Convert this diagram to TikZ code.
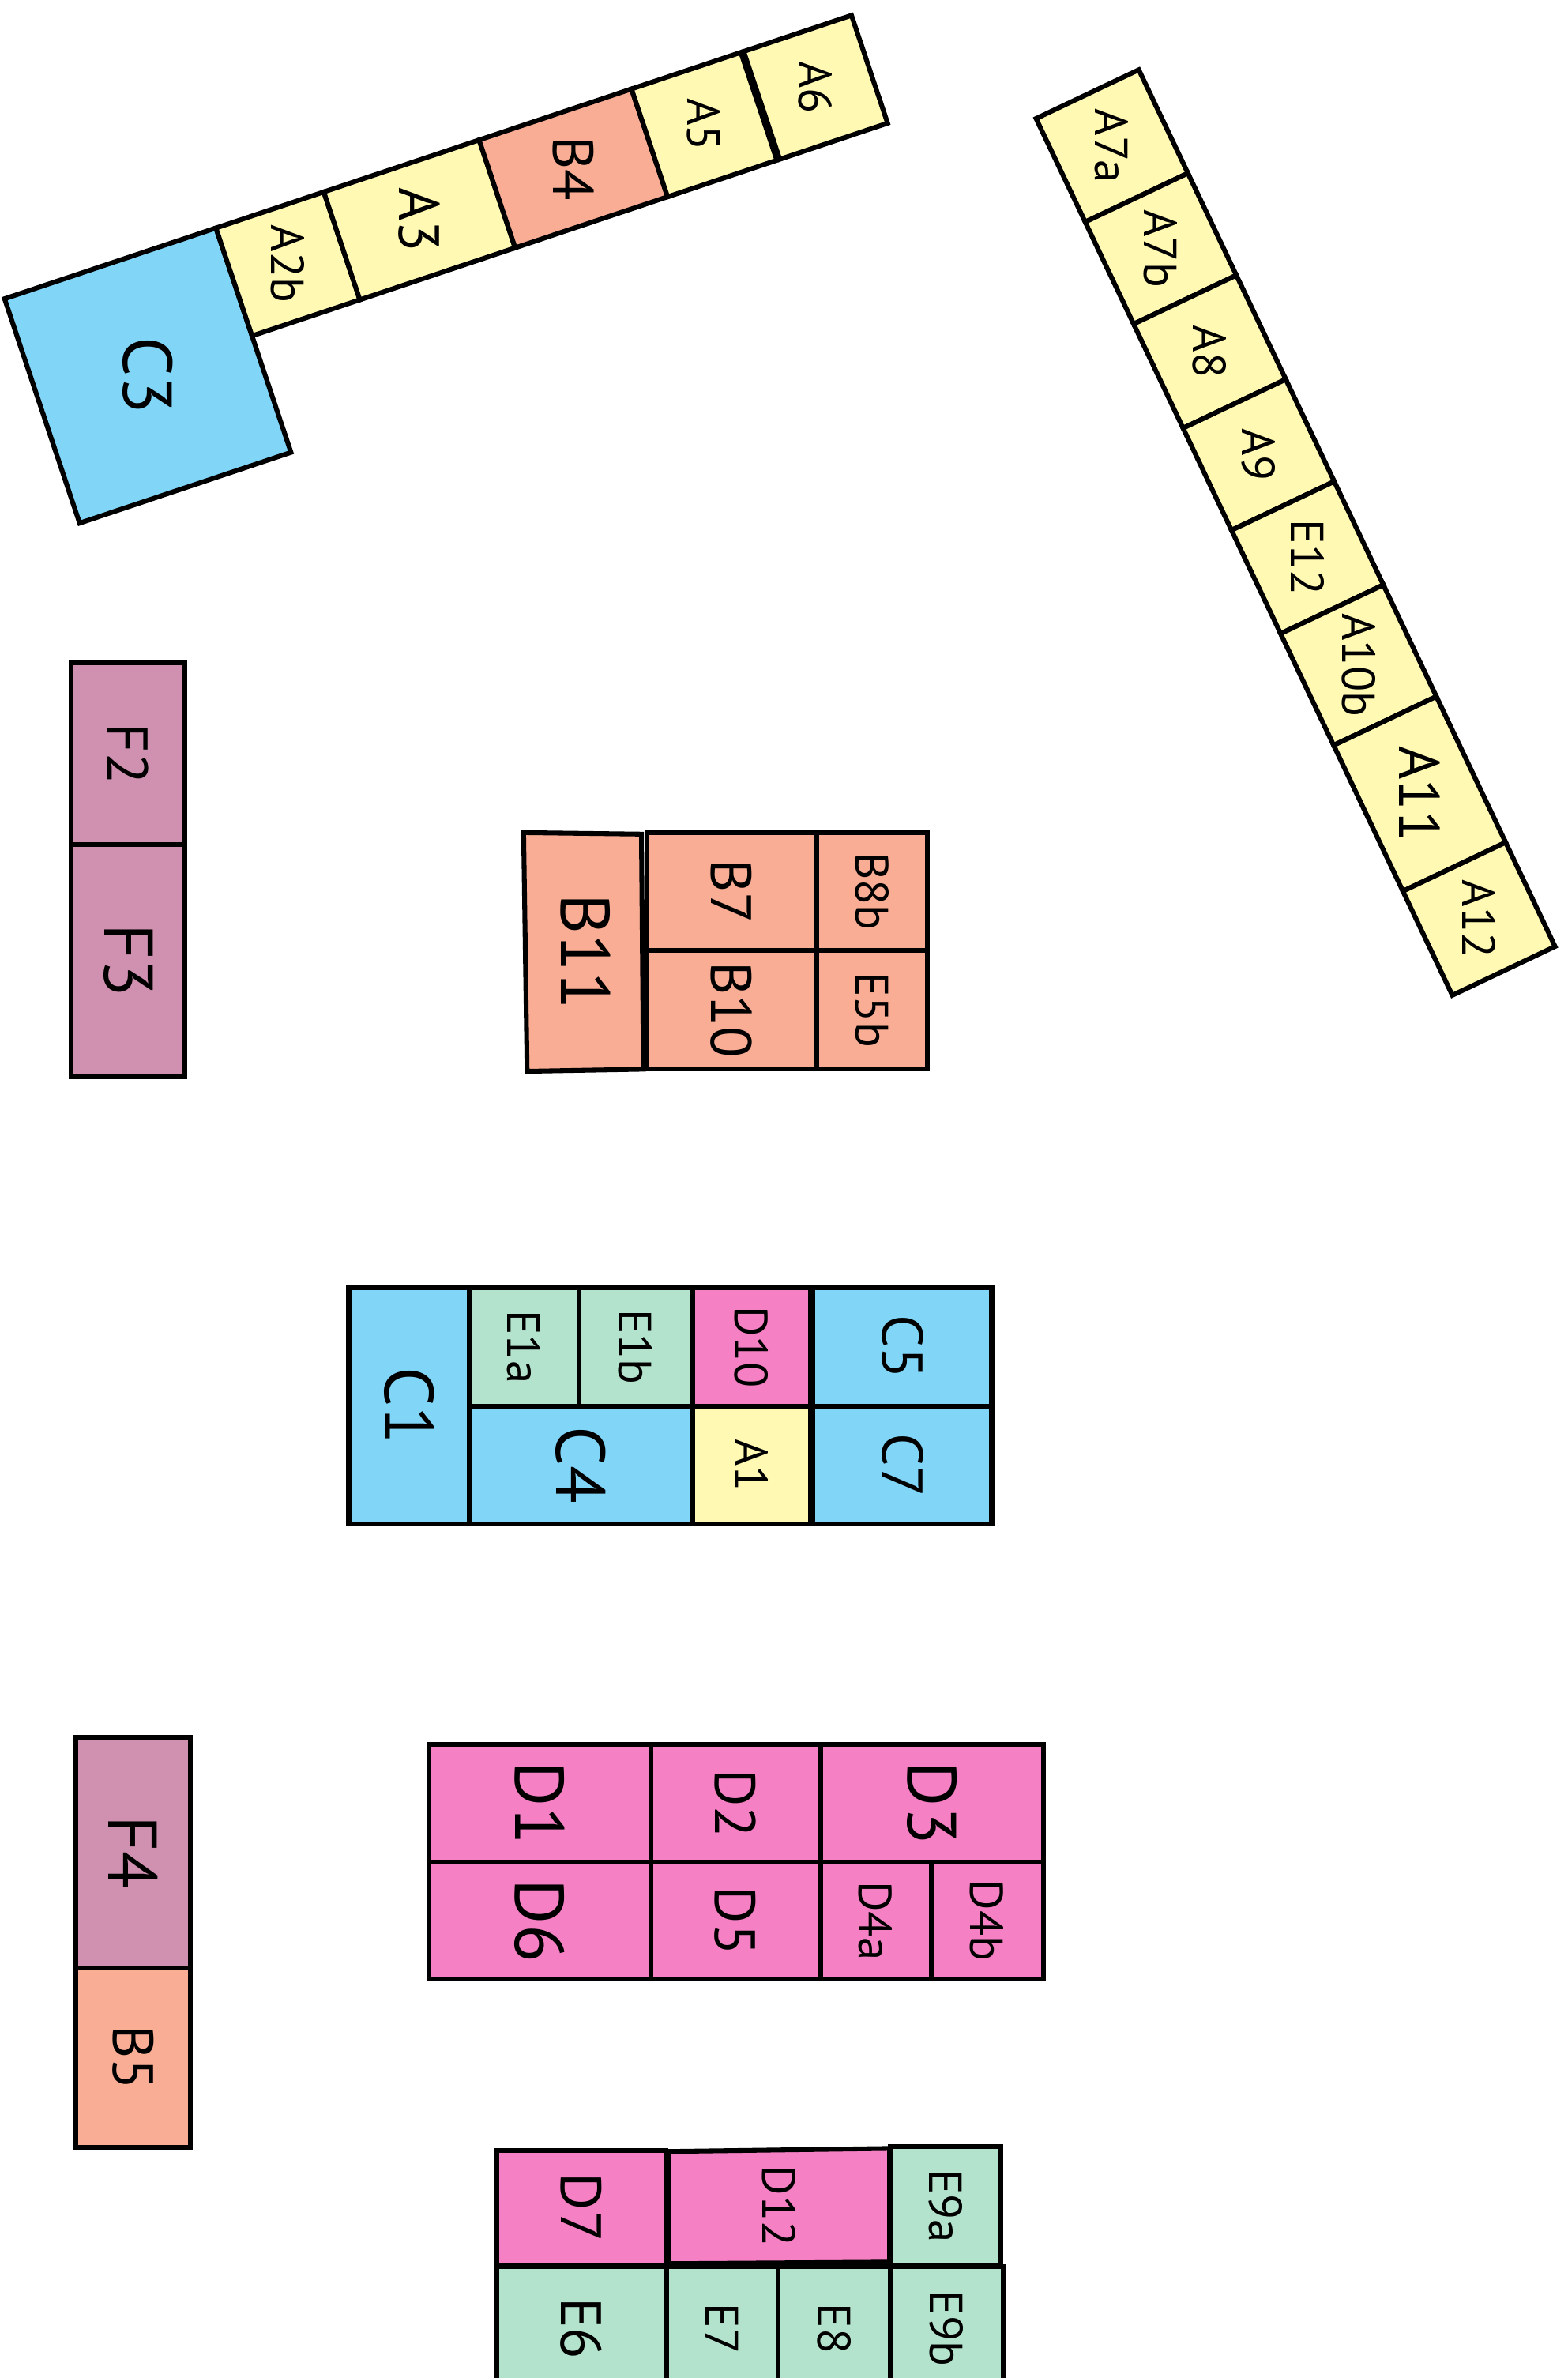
\documentclass[tikz,border=0pt]{standalone}
\usepackage{fontspec}
\setmainfont{PT Sans}
\definecolor{ylw}{RGB}{255,249,180}
\definecolor{slm}{RGB}{248,173,148}
\definecolor{blu}{RGB}{129,213,247}
\definecolor{pnk}{RGB}{245,128,196}
\definecolor{mnt}{RGB}{179,227,204}
\definecolor{mve}{RGB}{208,145,177}
\tikzset{
  cell/.style={draw, line width=1.8pt, line join=miter},
  lbl/.style={rotate=-90, inner sep=0pt},
  lblL/.style={font=\fontsize{26}{26}\selectfont},
  lblM/.style={font=\fontsize{21.5}{22}\selectfont},
  lblS/.style={font=\fontsize{17.5}{18}\selectfont},
}
\begin{document}
\begin{tikzpicture}[x=0.02cm, y=-0.02cm]
\useasboundingbox (0,0) rectangle (1034,1568);
\clip (0,0) rectangle (1034,1568);

% top left strip
\begin{scope}[shift={(3,197)}, rotate=18.5]
  \draw[cell, fill=blu] (0,0) rectangle (147,156) node[midway, lbl, lblL] (c3) {C3};
  \draw[cell, fill=ylw] (147,0) rectangle (222,75) node[midway, lbl, lblS] (a2b) {A2b};
  \draw[cell, fill=ylw] (222,0) rectangle (330,75) node[midway, lbl, lblM] (a3) {A3};
  \draw[cell, fill=slm] (330,0) rectangle (436,75) node[midway, lbl, lblM] (b4) {B4};
  \draw[cell, fill=ylw] (436,0) rectangle (512,75) node[midway, lbl, lblS] (a5) {A5};
  \draw[cell, fill=ylw] (514,0) rectangle (589,75) node[midway, lbl, lblS] (a6) {A6};
\end{scope}

% right strip
\begin{scope}[shift={(751,46)}, rotate=-64.6]
  \draw[cell, fill=ylw] (0,0) rectangle (75.5,75) node[midway, lbl, lblS] (a7a) {A7a};
  \draw[cell, fill=ylw] (75.5,0) rectangle (150,75) node[midway, lbl, lblS] (a7b) {A7b};
  \draw[cell, fill=ylw] (150,0) rectangle (226,75) node[midway, lbl, lblS] (a8) {A8};
  \draw[cell, fill=ylw] (226,0) rectangle (300.5,75) node[midway, lbl, lblS] (a9) {A9};
  \draw[cell, fill=ylw] (300.5,0) rectangle (376,75) node[midway, lbl, lblS] (e12) {E12};
  \draw[cell, fill=ylw] (376,0) rectangle (457.5,75) node[midway, lbl, lblS] (a10b) {A10b};
  \draw[cell, fill=ylw] (457.5,0) rectangle (564,75) node[midway, lbl, lblM] (a11) {A11};
  \draw[cell, fill=ylw] (564,0) rectangle (640,75) node[midway, lbl, lblS] (a12) {A12};
\end{scope}

% F column
\draw[cell, fill=mve] (47,437) rectangle (122,557) node[midway, lbl, lblM] (f2) {F2};
\draw[cell, fill=mve] (47,557) rectangle (122,710) node[midway, lbl, lblL] (f3) {F3};

% B block
\draw[cell, fill=slm] (345.3,549) -- (423,550) -- (424.3,705) -- (347.6,706.4) -- cycle;
\node[lbl, lblL] (b11) at (386,627.5) {B11};
\draw[cell, fill=slm] (426.5,549) rectangle (538.4,626.8) node[midway, lbl, lblM] (b7) {B7};
\draw[cell, fill=slm] (538.4,549) rectangle (611.8,626.8) node[midway, lbl, lblS] (b8b) {B8b};
\draw[cell, fill=slm] (426.5,626.8) rectangle (538.4,704.8) node[midway, lbl, lblM] (b10) {B10};
\draw[cell, fill=slm] (538.4,626.8) rectangle (611.8,704.8) node[midway, lbl, lblS] (e5b) {E5b};

% C block
\draw[cell, fill=blu] (230,849) rectangle (309.4,1005) node[midway, lbl, lblL] (c1) {C1};
\draw[cell, fill=mnt] (309.4,849) rectangle (381.7,927.2) node[midway, lbl, lblS] (e1a) {E1a};
\draw[cell, fill=mnt] (381.7,849) rectangle (456.1,927.2) node[midway, lbl, lblS] (e1b) {E1b};
\draw[cell, fill=blu] (309.4,927.2) rectangle (456.1,1005) node[midway, lbl, lblL] (c4) {C4};
\draw[cell, fill=pnk] (456.8,849) rectangle (534.6,927.2) node[midway, lbl, lblS] (d10) {D10};
\draw[cell, fill=ylw] (456.8,927.2) rectangle (534.6,1005) node[midway, lbl, lblS] (a1) {A1};
\draw[cell, fill=blu] (536.2,849) rectangle (654,927.2) node[midway, lbl, lblM] (c5) {C5};
\draw[cell, fill=blu] (536.2,927.2) rectangle (654,1005) node[midway, lbl, lblM] (c7) {C7};

% F4 / B5
\draw[cell, fill=mve] (50,1145.5) rectangle (125.5,1297.5) node[midway, lbl, lblL] (f4) {F4};
\draw[cell, fill=slm] (50,1297.5) rectangle (125.5,1416) node[midway, lbl, lblM] (b5) {B5};

% D block
\draw[cell, fill=pnk] (283,1150) rectangle (429,1228) node[midway, lbl, lblL] (d1) {D1};
\draw[cell, fill=pnk] (429,1150) rectangle (541,1228) node[midway, lbl, lblM] (d2) {D2};
\draw[cell, fill=pnk] (541,1150) rectangle (688,1228) node[midway, lbl, lblL] (d3) {D3};
\draw[cell, fill=pnk] (283,1228) rectangle (429,1305) node[midway, lbl, lblL] (d6) {D6};
\draw[cell, fill=pnk] (429,1228) rectangle (541,1305) node[midway, lbl, lblM] (d5) {D5};
\draw[cell, fill=pnk] (541,1228) rectangle (614,1305) node[midway, lbl, lblS] (d4a) {D4a};
\draw[cell, fill=pnk] (614,1228) rectangle (688,1305) node[midway, lbl, lblS] (d4b) {D4b};

% E block
\draw[cell, fill=pnk] (327.9,1418.1) rectangle (439.1,1493.3) node[midway, lbl, lblM] (d7) {D7};
\draw[cell, fill=pnk] (440.8,1418.6) -- (586.6,1416.6) -- (586.6,1491.6) -- (440.8,1492.6) -- cycle;
\node[lbl, lblS] (d12) at (513.7,1454.5) {D12};
\draw[cell, fill=mnt] (587,1415.2) rectangle (660,1494.2) node[midway, lbl, lblS] (e9a) {E9a};
\draw[cell, fill=mnt] (327.5,1494.6) rectangle (439.5,1576) node[midway, lbl, lblM] (e6) {E6};
\draw[cell, fill=mnt] (439.5,1494.6) rectangle (513.2,1576) node[midway, lbl, lblS] (e7) {E7};
\draw[cell, fill=mnt] (513.2,1494.6) rectangle (587,1576) node[midway, lbl, lblS] (e8) {E8};
\draw[cell, fill=mnt] (587,1494.6) rectangle (661.6,1576) node[midway, lbl, lblS] (e9b) {E9b};
\end{tikzpicture}
\end{document}
